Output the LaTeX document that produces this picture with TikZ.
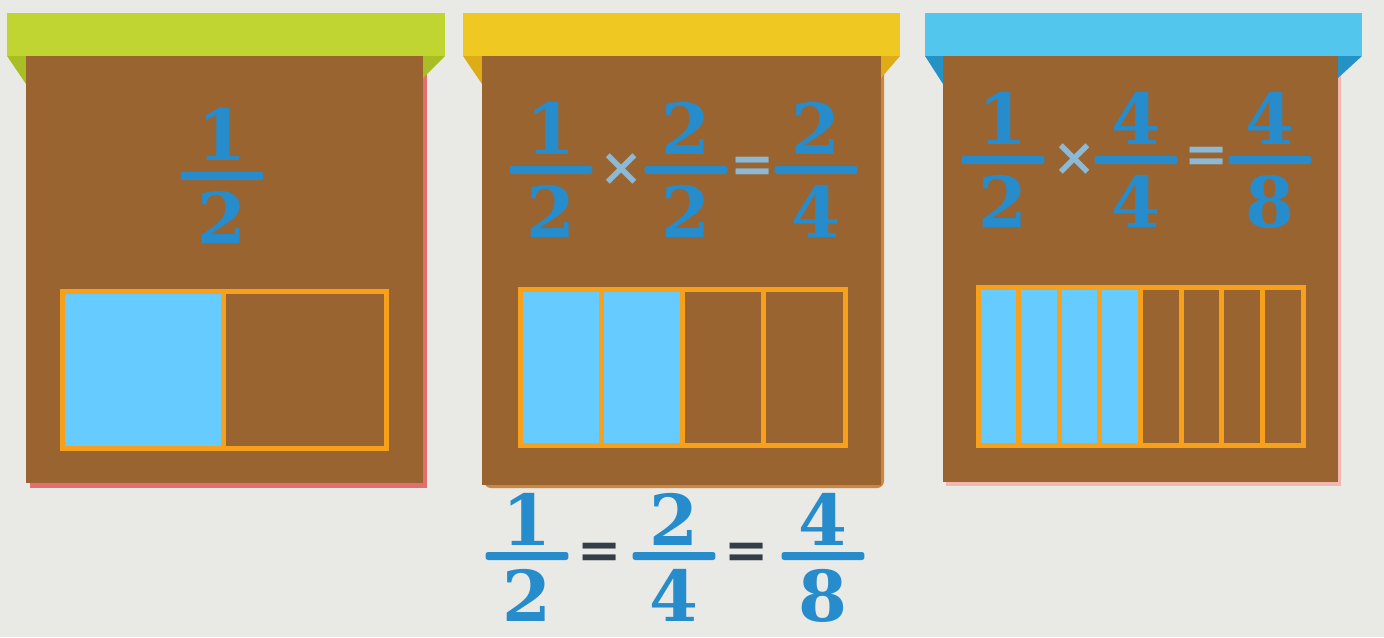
\documentclass[tikz,border=0pt]{standalone}
\usepackage{fontspec}
\setmainfont{DejaVu Serif}
\usepackage{xcolor}
\usepackage{tikz}
\usetikzlibrary{positioning}

\definecolor{wall}{RGB}{233,233,230}
\definecolor{woodbrown}{RGB}{154,100,48}
\definecolor{roofgreen}{RGB}{192,212,50}
\definecolor{roofgreendk}{RGB}{168,190,36}
\definecolor{roofyellow}{RGB}{240,200,34}
\definecolor{roofyellowdk}{RGB}{222,172,22}
\definecolor{roofcyan}{RGB}{82,198,236}
\definecolor{roofcyandk}{RGB}{36,146,196}
\definecolor{edgepink}{RGB}{226,110,112}
\definecolor{edgetan}{RGB}{204,134,62}
\definecolor{edgepale}{RGB}{242,184,176}
\definecolor{gridorange}{RGB}{246,160,28}
\definecolor{cellblue}{RGB}{102,204,255}
\definecolor{digitblue}{RGB}{38,140,204}
\definecolor{opblue}{RGB}{140,186,214}
\definecolor{opdark}{RGB}{50,62,72}

\begin{document}
\begin{tikzpicture}[
    x=0.02cm, y=-0.02cm,
    node distance=0.22cm,
    board/.style={fill=woodbrown},
    gridline/.style={draw=gridorange, line width=0.1cm},
    cell/.style={fill=cellblue},
    digit/.style={text=digitblue, inner sep=0pt, font=\fontsize{40}{40}\selectfont\bfseries},
    fbar/.style={
        rectangle, fill=digitblue, inner sep=0pt, rounded corners=1.5pt,
        minimum width=1.66cm, minimum height=0.16cm
    },
    op/.style={text=opblue, inner sep=0pt, font=\fontsize{30}{30}\selectfont\bfseries}
]
    % background
    \fill[wall] (0,0) rectangle (1384,637);

    % panel 1: green roof
    \fill[edgepink] (30,60) rectangle (427,488);
    \fill[roofgreendk] (7,56) -- (26,56) -- (26,84) -- cycle;
    \fill[roofgreendk] (423,56) -- (445,56) -- (423,78) -- cycle;
    \fill[board] (26,56) rectangle (423,483);
    \fill[roofgreen] (7,13) rectangle (445,56);
    \fill[cell] (62,291) rectangle (223,448);
    \draw[gridline] (62,291) rectangle (386,448);
    \draw[gridline] (223,291) -- (223,448);

    \node[fbar] (p1f) at (222,176) {};
    \node[digit, above=of p1f] (p1fn) {1};
    \node[digit, below=of p1f] (p1fd) {2};

    % panel 2: yellow roof
    \fill[edgetan, rounded corners=4pt] (484,60) rectangle (884,488);
    \fill[roofyellowdk] (463,56) -- (482,56) -- (482,84) -- cycle;
    \fill[roofyellowdk] (881,56) -- (900,56) -- (881,78) -- cycle;
    \fill[board] (482,56) rectangle (881,485);
    \fill[roofyellow] (463,13) rectangle (900,56);
    \fill[cell] (520,289) rectangle (682.5,445);
    \draw[gridline] (520,289) rectangle (845,445);
    \foreach \i in {1,2,3}
        \draw[gridline] ({520+\i*81.25},289) -- ++(0,156);

    \node[fbar] (p2a) at (551,170) {};
    \node[digit, above=of p2a] (p2an) {1};
    \node[digit, below=of p2a] (p2ad) {2};
    \node[op] (p2times) at (622,170) {×};
    \node[fbar] (p2b) at (686,170) {};
    \node[digit, above=of p2b] (p2bn) {2};
    \node[digit, below=of p2b] (p2bd) {2};
    \node[op] (p2eq) at (753,170) {=};
    \node[fbar] (p2c) at (816,170) {};
    \node[digit, above=of p2c] (p2cn) {2};
    \node[digit, below=of p2c] (p2cd) {4};

    % panel 3: cyan roof
    \fill[edgepale] (946,60) rectangle (1341,486);
    \fill[roofcyandk] (925,56) -- (943,56) -- (943,84) -- cycle;
    \fill[roofcyandk] (1338,56) -- (1362,56) -- (1338,78) -- cycle;
    \fill[board] (943,56) rectangle (1338,482);
    \fill[roofcyan] (925,13) rectangle (1362,56);
    \fill[cell] (978,287) rectangle (1140.5,445);
    \draw[gridline] (978,287) rectangle (1303,445);
    \foreach \i in {1,...,7}
        \draw[gridline] ({978+\i*40.625},287) -- ++(0,158);

    \node[fbar] (p3a) at (1003,160) {};
    \node[digit, above=of p3a] (p3an) {1};
    \node[digit, below=of p3a] (p3ad) {2};
    \node[op] (p3times) at (1075,160) {×};
    \node[fbar] (p3b) at (1136,160) {};
    \node[digit, above=of p3b] (p3bn) {4};
    \node[digit, below=of p3b] (p3bd) {4};
    \node[op] (p3eq) at (1207,160) {=};
    \node[fbar] (p3c) at (1270,160) {};
    \node[digit, above=of p3c] (p3cn) {4};
    \node[digit, below=of p3c] (p3cd) {8};

    % equal fractions below
    \node[fbar] (eqa) at (527,556) {};
    \node[digit, above=0.12cm of eqa] (eqan) {1};
    \node[digit, below=0.18cm of eqa] (eqad) {2};
    \node[op, text=opdark] (eq1) at (600,556) {=};
    \node[fbar] (eqb) at (674,556) {};
    \node[digit, above=0.12cm of eqb] (eqbn) {2};
    \node[digit, below=0.18cm of eqb] (eqbd) {4};
    \node[op, text=opdark] (eq2) at (747,556) {=};
    \node[fbar] (eqc) at (823,556) {};
    \node[digit, above=0.12cm of eqc] (eqcn) {4};
    \node[digit, below=0.18cm of eqc] (eqcd) {8};
\end{tikzpicture}
\end{document}
